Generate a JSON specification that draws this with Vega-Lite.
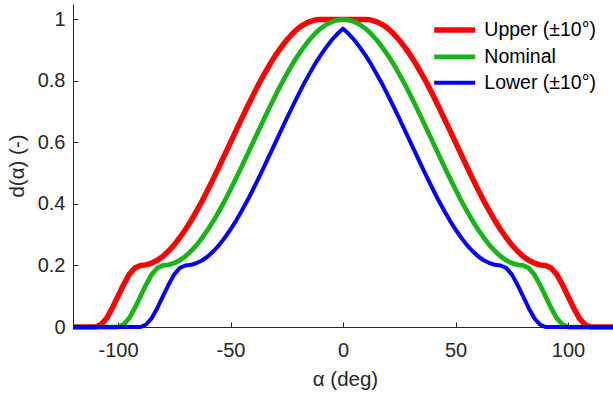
{
  "$schema": "https://vega.github.io/schema/vega-lite/v6.json",
  "width": 540,
  "height": 323,
  "autosize": "none",
  "padding": {"left": 73, "top": 4, "right": 0, "bottom": 71},
  "background": "white",
  "config": {
    "font": "Liberation Sans",
    "view": {"stroke": null},
    "axis": {
      "domainColor": "#262626",
      "tickColor": "#262626",
      "labelColor": "#262626",
      "titleColor": "#262626",
      "labelFont": "Liberation Sans",
      "titleFont": "Liberation Sans",
      "labelFontSize": 20,
      "titleFontSize": 20,
      "titleFontWeight": "normal",
      "grid": false,
      "tickSize": -5,
      "domainWidth": 1,
      "tickWidth": 1
    }
  },
  "data": {
    "values": [
      {"s":"Upper","a":-120,"d":0},{"s":"Upper","a":-110,"d":0},{"s":"Upper","a":-107.5,"d":0.008},{"s":"Upper","a":-105,"d":0.029},{"s":"Upper","a":-102.5,"d":0.062},{"s":"Upper","a":-100,"d":0.1},{"s":"Upper","a":-97.5,"d":0.138},{"s":"Upper","a":-95,"d":0.171},{"s":"Upper","a":-92.5,"d":0.192},{"s":"Upper","a":-90,"d":0.2},{"s":"Upper","a":-87.5,"d":0.202},{"s":"Upper","a":-85,"d":0.208},{"s":"Upper","a":-82.5,"d":0.217},{"s":"Upper","a":-80,"d":0.23},{"s":"Upper","a":-77.5,"d":0.247},{"s":"Upper","a":-75,"d":0.267},{"s":"Upper","a":-72.5,"d":0.291},{"s":"Upper","a":-70,"d":0.317},{"s":"Upper","a":-67.5,"d":0.346},{"s":"Upper","a":-65,"d":0.378},{"s":"Upper","a":-62.5,"d":0.411},{"s":"Upper","a":-60,"d":0.447},{"s":"Upper","a":-57.5,"d":0.484},{"s":"Upper","a":-55,"d":0.522},{"s":"Upper","a":-52.5,"d":0.561},{"s":"Upper","a":-50,"d":0.6},{"s":"Upper","a":-47.5,"d":0.639},{"s":"Upper","a":-45,"d":0.678},{"s":"Upper","a":-42.5,"d":0.716},{"s":"Upper","a":-40,"d":0.753},{"s":"Upper","a":-37.5,"d":0.789},{"s":"Upper","a":-35,"d":0.822},{"s":"Upper","a":-32.5,"d":0.854},{"s":"Upper","a":-30,"d":0.883},{"s":"Upper","a":-27.5,"d":0.909},{"s":"Upper","a":-25,"d":0.933},{"s":"Upper","a":-22.5,"d":0.953},{"s":"Upper","a":-20,"d":0.97},{"s":"Upper","a":-17.5,"d":0.983},{"s":"Upper","a":-15,"d":0.992},{"s":"Upper","a":-12.5,"d":0.998},{"s":"Upper","a":-10,"d":1},
      {"s":"Upper","a":10,"d":1},{"s":"Upper","a":12.5,"d":0.998},{"s":"Upper","a":15,"d":0.992},{"s":"Upper","a":17.5,"d":0.983},{"s":"Upper","a":20,"d":0.97},{"s":"Upper","a":22.5,"d":0.953},{"s":"Upper","a":25,"d":0.933},{"s":"Upper","a":27.5,"d":0.909},{"s":"Upper","a":30,"d":0.883},{"s":"Upper","a":32.5,"d":0.854},{"s":"Upper","a":35,"d":0.822},{"s":"Upper","a":37.5,"d":0.789},{"s":"Upper","a":40,"d":0.753},{"s":"Upper","a":42.5,"d":0.716},{"s":"Upper","a":45,"d":0.678},{"s":"Upper","a":47.5,"d":0.639},{"s":"Upper","a":50,"d":0.6},{"s":"Upper","a":52.5,"d":0.561},{"s":"Upper","a":55,"d":0.522},{"s":"Upper","a":57.5,"d":0.484},{"s":"Upper","a":60,"d":0.447},{"s":"Upper","a":62.5,"d":0.411},{"s":"Upper","a":65,"d":0.378},{"s":"Upper","a":67.5,"d":0.346},{"s":"Upper","a":70,"d":0.317},{"s":"Upper","a":72.5,"d":0.291},{"s":"Upper","a":75,"d":0.267},{"s":"Upper","a":77.5,"d":0.247},{"s":"Upper","a":80,"d":0.23},{"s":"Upper","a":82.5,"d":0.217},{"s":"Upper","a":85,"d":0.208},{"s":"Upper","a":87.5,"d":0.202},{"s":"Upper","a":90,"d":0.2},{"s":"Upper","a":92.5,"d":0.192},{"s":"Upper","a":95,"d":0.171},{"s":"Upper","a":97.5,"d":0.138},{"s":"Upper","a":100,"d":0.1},{"s":"Upper","a":102.5,"d":0.062},{"s":"Upper","a":105,"d":0.029},{"s":"Upper","a":107.5,"d":0.008},{"s":"Upper","a":110,"d":0},{"s":"Upper","a":120,"d":0},
      {"s":"Nominal","a":-120,"d":0},{"s":"Nominal","a":-100,"d":0},{"s":"Nominal","a":-97.5,"d":0.008},{"s":"Nominal","a":-95,"d":0.029},{"s":"Nominal","a":-92.5,"d":0.062},{"s":"Nominal","a":-90,"d":0.1},{"s":"Nominal","a":-87.5,"d":0.138},{"s":"Nominal","a":-85,"d":0.171},{"s":"Nominal","a":-82.5,"d":0.192},{"s":"Nominal","a":-80,"d":0.2},{"s":"Nominal","a":-77.5,"d":0.202},{"s":"Nominal","a":-75,"d":0.208},{"s":"Nominal","a":-72.5,"d":0.217},{"s":"Nominal","a":-70,"d":0.23},{"s":"Nominal","a":-67.5,"d":0.247},{"s":"Nominal","a":-65,"d":0.267},{"s":"Nominal","a":-62.5,"d":0.291},{"s":"Nominal","a":-60,"d":0.317},{"s":"Nominal","a":-57.5,"d":0.346},{"s":"Nominal","a":-55,"d":0.378},{"s":"Nominal","a":-52.5,"d":0.411},{"s":"Nominal","a":-50,"d":0.447},{"s":"Nominal","a":-47.5,"d":0.484},{"s":"Nominal","a":-45,"d":0.522},{"s":"Nominal","a":-42.5,"d":0.561},{"s":"Nominal","a":-40,"d":0.6},{"s":"Nominal","a":-37.5,"d":0.639},{"s":"Nominal","a":-35,"d":0.678},{"s":"Nominal","a":-32.5,"d":0.716},{"s":"Nominal","a":-30,"d":0.753},{"s":"Nominal","a":-27.5,"d":0.789},{"s":"Nominal","a":-25,"d":0.822},{"s":"Nominal","a":-22.5,"d":0.854},{"s":"Nominal","a":-20,"d":0.883},{"s":"Nominal","a":-17.5,"d":0.909},{"s":"Nominal","a":-15,"d":0.933},{"s":"Nominal","a":-12.5,"d":0.953},{"s":"Nominal","a":-10,"d":0.97},{"s":"Nominal","a":-7.5,"d":0.983},{"s":"Nominal","a":-5,"d":0.992},{"s":"Nominal","a":-2.5,"d":0.998},{"s":"Nominal","a":0,"d":1},
      {"s":"Nominal","a":2.5,"d":0.998},{"s":"Nominal","a":5,"d":0.992},{"s":"Nominal","a":7.5,"d":0.983},{"s":"Nominal","a":10,"d":0.97},{"s":"Nominal","a":12.5,"d":0.953},{"s":"Nominal","a":15,"d":0.933},{"s":"Nominal","a":17.5,"d":0.909},{"s":"Nominal","a":20,"d":0.883},{"s":"Nominal","a":22.5,"d":0.854},{"s":"Nominal","a":25,"d":0.822},{"s":"Nominal","a":27.5,"d":0.789},{"s":"Nominal","a":30,"d":0.753},{"s":"Nominal","a":32.5,"d":0.716},{"s":"Nominal","a":35,"d":0.678},{"s":"Nominal","a":37.5,"d":0.639},{"s":"Nominal","a":40,"d":0.6},{"s":"Nominal","a":42.5,"d":0.561},{"s":"Nominal","a":45,"d":0.522},{"s":"Nominal","a":47.5,"d":0.484},{"s":"Nominal","a":50,"d":0.447},{"s":"Nominal","a":52.5,"d":0.411},{"s":"Nominal","a":55,"d":0.378},{"s":"Nominal","a":57.5,"d":0.346},{"s":"Nominal","a":60,"d":0.317},{"s":"Nominal","a":62.5,"d":0.291},{"s":"Nominal","a":65,"d":0.267},{"s":"Nominal","a":67.5,"d":0.247},{"s":"Nominal","a":70,"d":0.23},{"s":"Nominal","a":72.5,"d":0.217},{"s":"Nominal","a":75,"d":0.208},{"s":"Nominal","a":77.5,"d":0.202},{"s":"Nominal","a":80,"d":0.2},{"s":"Nominal","a":82.5,"d":0.192},{"s":"Nominal","a":85,"d":0.171},{"s":"Nominal","a":87.5,"d":0.138},{"s":"Nominal","a":90,"d":0.1},{"s":"Nominal","a":92.5,"d":0.062},{"s":"Nominal","a":95,"d":0.029},{"s":"Nominal","a":97.5,"d":0.008},{"s":"Nominal","a":100,"d":0},{"s":"Nominal","a":120,"d":0},
      {"s":"Lower","a":-120,"d":0},{"s":"Lower","a":-90,"d":0},{"s":"Lower","a":-87.5,"d":0.008},{"s":"Lower","a":-85,"d":0.029},{"s":"Lower","a":-82.5,"d":0.062},{"s":"Lower","a":-80,"d":0.1},{"s":"Lower","a":-77.5,"d":0.138},{"s":"Lower","a":-75,"d":0.171},{"s":"Lower","a":-72.5,"d":0.192},{"s":"Lower","a":-70,"d":0.2},{"s":"Lower","a":-67.5,"d":0.202},{"s":"Lower","a":-65,"d":0.208},{"s":"Lower","a":-62.5,"d":0.217},{"s":"Lower","a":-60,"d":0.23},{"s":"Lower","a":-57.5,"d":0.247},{"s":"Lower","a":-55,"d":0.267},{"s":"Lower","a":-52.5,"d":0.291},{"s":"Lower","a":-50,"d":0.317},{"s":"Lower","a":-47.5,"d":0.346},{"s":"Lower","a":-45,"d":0.378},{"s":"Lower","a":-42.5,"d":0.411},{"s":"Lower","a":-40,"d":0.447},{"s":"Lower","a":-37.5,"d":0.484},{"s":"Lower","a":-35,"d":0.522},{"s":"Lower","a":-32.5,"d":0.561},{"s":"Lower","a":-30,"d":0.6},{"s":"Lower","a":-27.5,"d":0.639},{"s":"Lower","a":-25,"d":0.678},{"s":"Lower","a":-22.5,"d":0.716},{"s":"Lower","a":-20,"d":0.753},{"s":"Lower","a":-17.5,"d":0.789},{"s":"Lower","a":-15,"d":0.822},{"s":"Lower","a":-12.5,"d":0.854},{"s":"Lower","a":-10,"d":0.883},{"s":"Lower","a":-7.5,"d":0.909},{"s":"Lower","a":-5,"d":0.933},{"s":"Lower","a":-2.5,"d":0.953},{"s":"Lower","a":0,"d":0.97},
      {"s":"Lower","a":2.5,"d":0.953},{"s":"Lower","a":5,"d":0.933},{"s":"Lower","a":7.5,"d":0.909},{"s":"Lower","a":10,"d":0.883},{"s":"Lower","a":12.5,"d":0.854},{"s":"Lower","a":15,"d":0.822},{"s":"Lower","a":17.5,"d":0.789},{"s":"Lower","a":20,"d":0.753},{"s":"Lower","a":22.5,"d":0.716},{"s":"Lower","a":25,"d":0.678},{"s":"Lower","a":27.5,"d":0.639},{"s":"Lower","a":30,"d":0.6},{"s":"Lower","a":32.5,"d":0.561},{"s":"Lower","a":35,"d":0.522},{"s":"Lower","a":37.5,"d":0.484},{"s":"Lower","a":40,"d":0.447},{"s":"Lower","a":42.5,"d":0.411},{"s":"Lower","a":45,"d":0.378},{"s":"Lower","a":47.5,"d":0.346},{"s":"Lower","a":50,"d":0.317},{"s":"Lower","a":52.5,"d":0.291},{"s":"Lower","a":55,"d":0.267},{"s":"Lower","a":57.5,"d":0.247},{"s":"Lower","a":60,"d":0.23},{"s":"Lower","a":62.5,"d":0.217},{"s":"Lower","a":65,"d":0.208},{"s":"Lower","a":67.5,"d":0.202},{"s":"Lower","a":70,"d":0.2},{"s":"Lower","a":72.5,"d":0.192},{"s":"Lower","a":75,"d":0.171},{"s":"Lower","a":77.5,"d":0.138},{"s":"Lower","a":80,"d":0.1},{"s":"Lower","a":82.5,"d":0.062},{"s":"Lower","a":85,"d":0.029},{"s":"Lower","a":87.5,"d":0.008},{"s":"Lower","a":90,"d":0},{"s":"Lower","a":120,"d":0}
    ]
  },
  "mark": {"type": "line", "strokeCap": "butt", "strokeJoin": "round"},
  "encoding": {
    "x": {
      "field": "a",
      "type": "quantitative",
      "scale": {"domain": [-120, 120], "nice": false, "zero": false},
      "axis": {
        "values": [-100, -50, 0, 50, 100],
        "labelExpr": "'' + datum.value",
        "labelPadding": 18,
        "title": "α (deg)",
        "titleBaseline": "middle",
        "titleX": 272,
        "titleY": 52,
        "titleFontSize": 20.5
      }
    },
    "y": {
      "field": "d",
      "type": "quantitative",
      "scale": {"domain": [0, 1.05], "nice": false},
      "axis": {
        "values": [0, 0.2, 0.4, 0.6, 0.8, 1],
        "format": "~g",
        "labelPadding": 13,
        "title": "d(α) (-)",
        "titleBaseline": "middle",
        "titleAngle": -90,
        "titleX": -56,
        "titleY": 161.5,
        "titleFontSize": 20.5
      }
    },
    "color": {
      "field": "s",
      "type": "nominal",
      "scale": {"domain": ["Upper", "Nominal", "Lower"], "range": ["#ff0000", "#1ab31a", "#0000ff"]},
      "legend": {
        "title": null,
        "orient": "none",
        "legendX": 371.7,
        "legendY": 16,
        "symbolType": "M-3,0H3",
        "symbolSize": 187,
        "symbolFillColor": "transparent",
        "labelFontSize": 19.5,
        "labelFont": "Liberation Sans",
        "labelColor": "#000000",
        "labelOffset": 19.6,
        "rowPadding": 5,
        "padding": 0,
        "labelExpr": "datum.label == 'Nominal' ? 'Nominal' : datum.label + ' (±10°)'",
        "encode": {"symbols": {"update": {"strokeWidth": {"scale": "strokeWidth", "field": "value"}}}}
      }
    },
    "strokeWidth": {
      "field": "s",
      "type": "nominal",
      "scale": {"domain": ["Upper", "Nominal", "Lower"], "range": [5.5, 4, 2.7]},
      "legend": {
        "title": null,
        "orient": "none",
        "legendX": 371.7,
        "legendY": 16,
        "symbolType": "M-3,0H3",
        "symbolSize": 187,
        "symbolFillColor": "transparent",
        "labelFontSize": 19.5,
        "labelFont": "Liberation Sans",
        "labelColor": "#000000",
        "labelOffset": 19.6,
        "rowPadding": 5,
        "padding": 0,
        "labelExpr": "datum.label == 'Nominal' ? 'Nominal' : datum.label + ' (±10°)'",
        "encode": {"symbols": {"update": {"strokeWidth": {"scale": "strokeWidth", "field": "value"}}}}
      }
    }
  }
}
